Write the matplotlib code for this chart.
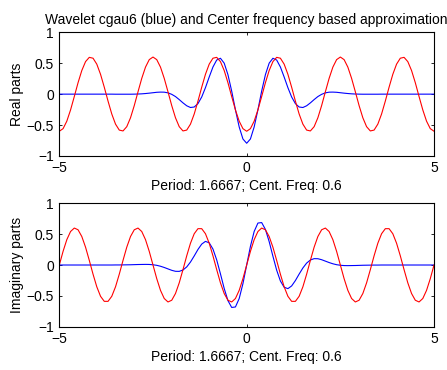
import numpy as np
import matplotlib
matplotlib.use("Agg")
import matplotlib.pyplot as plt

plt.rcParams['font.family'] = ['Liberation Sans', 'DejaVu Sans']
plt.rcParams['font.size'] = 10

# sample positions (x from -5 to 5, step 0.1)
x = np.arange(-50, 51) / 10.0

# Real part of the cgau6 wavelet (blue)
wavelet_real = [
    0, 0, 0, 0, 0, 0, 0, 0, 0, 0,
    0, 0, 0, 0, 0, -0.001, -0.001, -0.001, -0.001, -0.001,
    0.000, 0.002, 0.005, 0.010, 0.016, 0.023, 0.030, 0.033, 0.032, 0.021,
    -0.003, -0.039, -0.088, -0.141, -0.188, -0.216, -0.208, -0.153, -0.046, 0.105,
    0.277, 0.439, 0.552, 0.580, 0.501, 0.315, 0.049, -0.253, -0.530, -0.725,
    -0.794, -0.725, -0.530, -0.253, 0.049, 0.315, 0.501, 0.580, 0.552, 0.439,
    0.277, 0.105, -0.046, -0.153, -0.208, -0.216, -0.188, -0.141, -0.088, -0.039,
    -0.003, 0.021, 0.032, 0.033, 0.030, 0.023, 0.016, 0.010, 0.005, 0.002,
    0.000, -0.001, -0.001, -0.001, -0.001, -0.001, 0, 0, 0, 0,
    0, 0, 0, 0, 0, 0, 0, 0, 0, 0,
    0,
]

# Imaginary part of the cgau6 wavelet (blue)
wavelet_imag = [
    0, 0, 0, 0, 0, 0, 0, 0, 0, 0,
    0, 0, 0, 0, 0, 0.001, 0.001, 0.002, 0.003, 0.004,
    0.006, 0.008, 0.009, 0.010, 0.009, 0.004, -0.005, -0.020, -0.040, -0.063,
    -0.086, -0.102, -0.103, -0.081, -0.031, 0.048, 0.147, 0.252, 0.339, 0.383,
    0.360, 0.259, 0.083, -0.143, -0.380, -0.577, -0.688, -0.680, -0.544, -0.302,
    0.0, 0.302, 0.544, 0.680, 0.688, 0.577, 0.380, 0.143, -0.083, -0.259,
    -0.360, -0.383, -0.339, -0.252, -0.147, -0.048, 0.031, 0.081, 0.103, 0.102,
    0.086, 0.063, 0.040, 0.020, 0.005, -0.004, -0.009, -0.010, -0.009, -0.008,
    -0.006, -0.004, -0.003, -0.002, -0.001, -0.001, 0, 0, 0, 0,
    0, 0, 0, 0, 0, 0, 0, 0, 0, 0,
    0,
]

# Real part of the centre-frequency approximation (red)
approx_real = [
    -0.600, -0.558, -0.437, -0.255, -0.038, 0.185, 0.382, 0.526, 0.595, 0.581,
    0.485, 0.321, 0.112, -0.112, -0.321, -0.485, -0.581, -0.595, -0.526, -0.382,
    -0.185, 0.038, 0.255, 0.437, 0.558, 0.600, 0.558, 0.437, 0.255, 0.038,
    -0.185, -0.382, -0.526, -0.595, -0.581, -0.485, -0.321, -0.112, 0.112, 0.321,
    0.485, 0.581, 0.595, 0.526, 0.382, 0.185, -0.038, -0.255, -0.437, -0.558,
    -0.600, -0.558, -0.437, -0.255, -0.038, 0.185, 0.382, 0.526, 0.595, 0.581,
    0.485, 0.321, 0.112, -0.112, -0.321, -0.485, -0.581, -0.595, -0.526, -0.382,
    -0.185, 0.038, 0.255, 0.437, 0.558, 0.600, 0.558, 0.437, 0.255, 0.038,
    -0.185, -0.382, -0.526, -0.595, -0.581, -0.485, -0.321, -0.112, 0.112, 0.321,
    0.485, 0.581, 0.595, 0.526, 0.382, 0.185, -0.038, -0.255, -0.437, -0.558,
    -0.600,
]

# Imaginary part of the centre-frequency approximation (red)
approx_imag = [
    0.0, 0.221, 0.411, 0.543, 0.599, 0.571, 0.462, 0.289, 0.075, -0.149,
    -0.353, -0.507, -0.589, -0.589, -0.507, -0.353, -0.149, 0.075, 0.289, 0.462,
    0.571, 0.599, 0.543, 0.411, 0.221, 0.0, -0.221, -0.411, -0.543, -0.599,
    -0.571, -0.462, -0.289, -0.075, 0.149, 0.353, 0.507, 0.589, 0.589, 0.507,
    0.353, 0.149, -0.075, -0.289, -0.462, -0.571, -0.599, -0.543, -0.411, -0.221,
    0.0, 0.221, 0.411, 0.543, 0.599, 0.571, 0.462, 0.289, 0.075, -0.149,
    -0.353, -0.507, -0.589, -0.589, -0.507, -0.353, -0.149, 0.075, 0.289, 0.462,
    0.571, 0.599, 0.543, 0.411, 0.221, 0.0, -0.221, -0.411, -0.543, -0.599,
    -0.571, -0.462, -0.289, -0.075, 0.149, 0.353, 0.507, 0.589, 0.589, 0.507,
    0.353, 0.149, -0.075, -0.289, -0.462, -0.571, -0.599, -0.543, -0.411, -0.221,
    0.0,
]

x_ticks = [-5, 0, 5]
x_tick_labels = ["\u22125", "0", "5"]
y_ticks = [-1, -0.5, 0, 0.5, 1]
y_tick_labels = ["\u22121", "\u22120.5", "0", "0.5", "1"]

title_text = "Wavelet cgau6 (blue) and Center frequency based approximation"
xlabel_text = "Period: 1.6667; Cent. Freq: 0.6"

fig = plt.figure(figsize=(4.47, 3.70), dpi=100)
ax1 = fig.add_axes([0.1327, 0.5784, 0.8383, 0.3343])
ax2 = fig.add_axes([0.1327, 0.1170, 0.8383, 0.3335])


def style(ax, ylabel):
    ax.set_xlim(-5, 5)
    ax.set_ylim(-1, 1)
    ax.set_xticks(x_ticks)
    ax.set_xticklabels(x_tick_labels)
    ax.set_yticks(y_ticks)
    ax.set_yticklabels(y_tick_labels)
    ax.tick_params(direction='in', length=2.5, width=0.6, top=True, right=True,
                   labelsize=10, pad=4)
    ax.tick_params(axis='x', pad=3.5)
    for s in ax.spines.values():
        s.set_linewidth(0.8)
    ax.set_ylabel(ylabel, fontsize=10, labelpad=2)
    ax.set_xlabel(xlabel_text, fontsize=10, labelpad=3)


ax1.plot(x, wavelet_real, color=(0, 0, 1), lw=0.8)
ax1.plot(x, approx_real, color=(1, 0, 0), lw=0.8)
style(ax1, "Real parts")
ax1.set_title(title_text, fontsize=10, pad=6)

ax2.plot(x, wavelet_imag, color=(0, 0, 1), lw=0.8)
ax2.plot(x, approx_imag, color=(1, 0, 0), lw=0.8)
style(ax2, "Imaginary parts")

fig.savefig("out.png", dpi=100)
